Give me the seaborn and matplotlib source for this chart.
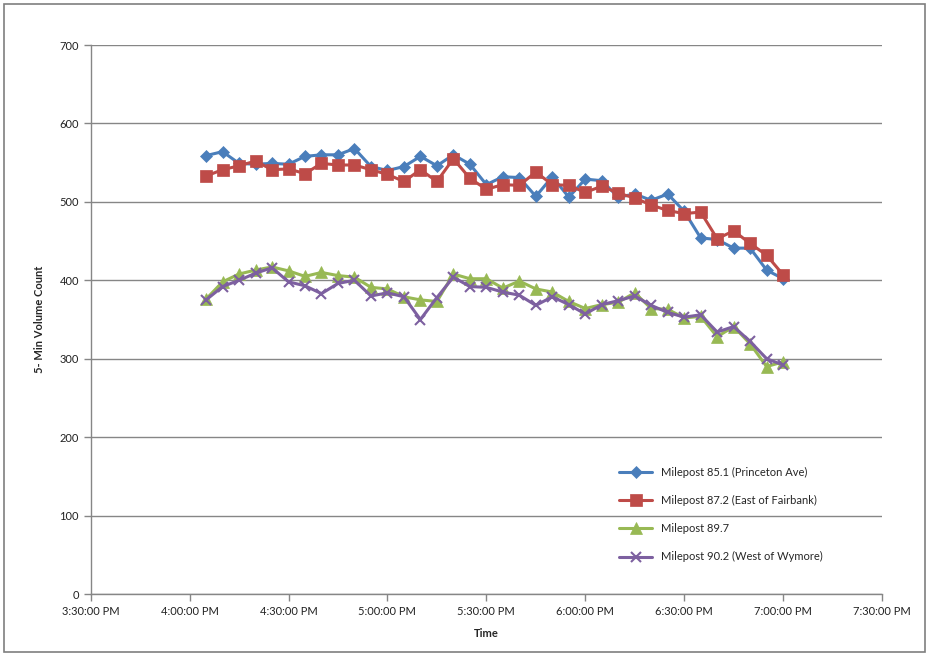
import numpy as np
import pandas as pd
import matplotlib
matplotlib.use("Agg")
import matplotlib.pyplot as plt
import matplotlib.dates as mdates
from matplotlib.patches import Rectangle
import seaborn as sns

# 5-minute intervals, 4:05 PM - 7:00 PM
times = ["16:05", "16:10", "16:15", "16:20", "16:25", "16:30", "16:35", "16:40", "16:45",
         "16:50", "16:55", "17:00", "17:05", "17:10", "17:15", "17:20", "17:25", "17:30",
         "17:35", "17:40", "17:45", "17:50", "17:55", "18:00", "18:05", "18:10", "18:15",
         "18:20", "18:25", "18:30", "18:35", "18:40", "18:45", "18:50", "18:55", "19:00"]

mp_851 = [559, 564, 549, 548, 549, 548, 558, 560, 560, 568, 545, 540,
          545, 558, 546, 560, 548, 522, 532, 531, 507, 532, 506, 529,
          527, 506, 510, 502, 510, 488, 454, 452, 441, 441, 413, 402]
mp_872 = [533, 541, 546, 552, 541, 542, 536, 549, 547, 547, 541, 535,
          526, 541, 526, 555, 530, 516, 522, 521, 538, 522, 521, 512,
          520, 511, 505, 496, 489, 485, 487, 453, 463, 447, 432, 407]
mp_897 = [376, 398, 408, 413, 417, 412, 405, 410, 406, 404, 391, 389,
          379, 375, 373, 408, 402, 402, 390, 399, 389, 385, 373, 364,
          369, 372, 384, 364, 363, 352, 354, 328, 341, 319, 290, 296]
mp_902 = [375, 392, 400, 409, 416, 398, 393, 383, 396, 400, 380, 384,
          379, 350, 378, 404, 392, 391, 385, 381, 368, 379, 369, 357,
          369, 374, 380, 368, 359, 353, 356, 334, 341, 322, 300, 292]

labels = ["Milepost 85.1 (Princeton Ave)", "Milepost 87.2 (East of Fairbank)",
          "Milepost 89.7", "Milepost 90.2 (West of Wymore)"]
colors = ["#4a7ebb", "#be4b48", "#98b954", "#7d60a0"]
markers = ["D", "s", "^", "x"]

stamps = pd.to_datetime(["2010-01-01 " + t for t in times])
df = pd.concat([
    pd.DataFrame({"Time": stamps, "Count": vals, "Series": lab})
    for vals, lab in zip([mp_851, mp_872, mp_897, mp_902], labels)
])

sns.set_style("white")
plt.rcParams["font.family"] = ["Lato", "DejaVu Sans"]

fig = plt.figure(figsize=(9.31, 6.56), dpi=100)
ax = fig.add_axes([0.0974, 0.0945, 0.8500, 0.8369])

msizes = {"D": 6, "s": 8, "^": 8, "x": 7}
for lab, col, mk in zip(labels, colors, markers):
    sub = df[df["Series"] == lab]
    sns.lineplot(data=sub, x="Time", y="Count", ax=ax, color=col, marker=mk,
                 markersize=msizes[mk], markeredgecolor=col, markeredgewidth=1.5 if mk == "x" else 0.5,
                 linewidth=2.2, label=lab)

x0 = pd.Timestamp("2010-01-01 15:30")
x1 = pd.Timestamp("2010-01-01 19:30")
ax.set_xlim(x0, x1)
ax.set_ylim(0, 700)
ax.set_yticks(np.arange(0, 701, 100))
ax.xaxis.set_major_locator(mdates.MinuteLocator(byminute=[0, 30]))


def fmt_time(v, pos):
    d = mdates.num2date(v)
    h = d.hour % 12 or 12
    return f"{h}:{d.minute:02d}:00 {'PM' if d.hour >= 12 else 'AM'}"


ax.xaxis.set_major_formatter(plt.FuncFormatter(fmt_time))

ax.grid(axis="y", color="#868686", linewidth=1)
ax.grid(axis="x", visible=False)
for s in ["top", "right"]:
    ax.spines[s].set_visible(False)
for s in ["left", "bottom"]:
    ax.spines[s].set_color("#868686")
    ax.spines[s].set_linewidth(1)
ax.tick_params(axis="both", length=5, width=1, color="#868686", labelsize=8,
               labelcolor="#222222", direction="out", bottom=True, left=True)

ax.set_xlabel("Time", fontsize=8, fontweight="bold", labelpad=8)
ax.set_ylabel("5- Min Volume Count", fontsize=8, fontweight="bold", labelpad=10)

leg = ax.legend(loc="upper left", bbox_to_anchor=(0.662, 0.24), frameon=False,
                fontsize=8, handlelength=3, labelspacing=1.55, borderaxespad=0)

fig.patches.append(Rectangle((0.004, 0.006), 0.99, 0.988, transform=fig.transFigure,
                             fill=False, edgecolor="#7f7f7f", linewidth=1.2))

fig.savefig("out.png", dpi=100)
